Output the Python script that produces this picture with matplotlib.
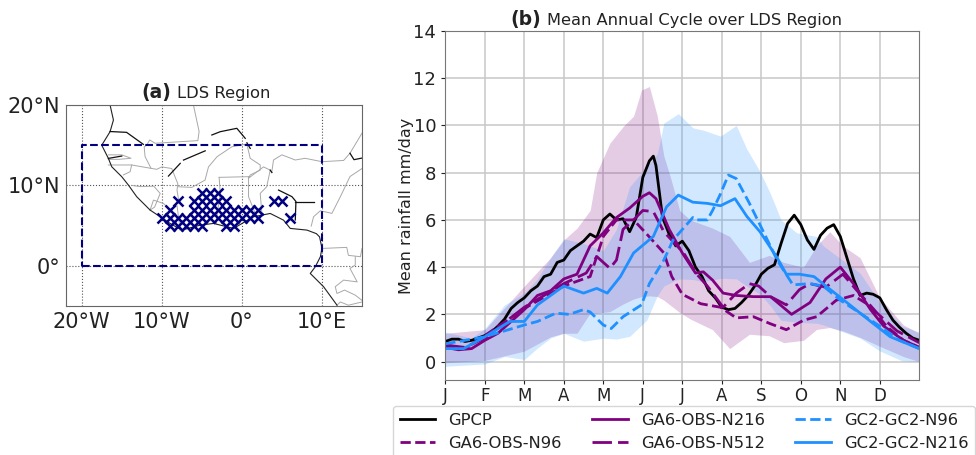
import numpy as np
import matplotlib
matplotlib.use('Agg')
import matplotlib.pyplot as plt

months=['J','F','M','A','M','J','J','A','S','O','N','D']

gpcp_days=[0,5,10,15,20,25,30,35,40,45,50,55,60,65,70,75,80,85,90,95,100,105,110,115,120,125,130,135,140,145,150,155,158,160,165,170,175,180,185,190,195,200,205,210,215,220,225,230,235,240,245,250,255,260,265,270,275,280,285,290,295,300,305,310,315,320,325,330,335,340,345,350,355,360]
gpcp=[0.85,0.95,0.95,0.85,0.9,1.0,1.1,1.25,1.5,1.8,2.25,2.5,2.7,3.0,3.2,3.6,3.7,4.2,4.3,4.7,4.9,5.1,5.4,5.25,6.0,6.25,6.0,6.05,5.5,6.1,7.8,8.5,8.7,8.3,6.1,5.4,4.9,5.1,4.7,4.0,3.6,3.0,2.7,2.3,2.2,2.25,2.5,2.8,3.2,3.7,3.95,4.1,5.0,5.85,6.2,5.8,5.15,4.75,5.35,5.65,5.8,5.3,4.4,3.5,2.8,2.9,2.85,2.7,2.2,1.75,1.45,1.2,1.0,0.9]

n96_days=[0,15,30,60,90,110,120,130,143,153,166,172,180,194,209,221,234,247,259,272,282,297,310,323,335,348,360]
n96=[0.7,0.55,1.1,2.25,3.2,3.6,5.3,6.0,6.0,5.4,4.6,3.6,2.85,2.45,2.3,1.85,1.9,1.6,1.35,1.75,1.9,2.6,2.8,2.35,1.5,0.9,0.6]

n216_days=[0,10,20,30,40,50,60,70,80,90,100,110,120,130,140,150,155,160,170,180,190,196,203,211,221,234,247,263,277,289,300,310,323,333,348,360]
n216=[0.6,0.5,0.55,0.9,1.2,1.7,2.2,2.8,3.0,3.5,3.7,4.9,5.45,6.1,6.5,7.0,7.15,6.9,5.6,4.6,3.75,3.8,3.45,2.9,2.8,2.75,2.75,2.0,2.5,3.5,4.0,3.3,2.2,1.5,0.9,0.6]

n512_days=[0,15,30,60,90,107,115,120,125,130,135,143,150,158,166,181,191,199,211,221,231,238,247,259,269,277,289,302,312,328,343,360]
n512=[0.7,0.6,1.0,2.3,3.3,3.75,4.45,4.2,3.95,4.3,5.6,6.0,6.4,6.35,5.5,4.6,3.7,3.2,2.3,2.9,3.3,3.2,2.75,2.4,3.05,3.3,3.15,3.7,3.05,2.05,1.3,0.8]

gc96_days=[0,30,60,70,84,94,105,110,120,126,135,149,155,166,173,188,191,199,203,209,215,221,231,242,252,264,277,287,300,315,330,345,360]
gc96=[0.75,1.05,1.55,1.7,2.05,2.0,2.2,2.1,1.55,1.4,1.9,2.4,3.3,4.3,5.15,6.1,6.0,6.0,6.4,7.1,7.9,7.75,6.7,5.45,4.3,3.25,3.3,3.2,2.6,2.05,1.5,0.9,0.55]

gc216_days=[0,14,30,49,60,70,90,105,115,123,133,143,158,168,177,188,199,209,220,229,239,252,259,269,280,289,305,323,338,360]
gc216=[0.55,0.55,1.05,1.7,1.7,2.4,3.2,2.9,3.1,2.9,3.6,4.6,5.3,6.55,7.05,6.75,6.7,6.6,6.9,6.15,5.5,4.4,3.7,3.7,3.6,3.2,2.5,1.7,1.05,0.55]

ga6_up_days=[0,30,60,80,90,100,110,115,125,135,143,149,155,161,166,171,178,186,203,216,231,246,257,272,282,292,302,315,330,348,360]
ga6_up=[1.2,1.35,3.2,4.4,5.15,5.65,6.4,8.0,9.25,9.95,10.4,11.5,11.65,10.4,8.7,7.8,6.4,6.0,5.65,5.3,4.2,4.5,4.2,4.0,4.9,5.5,4.9,4.4,2.7,1.55,1.2]
ga6_lo_days=[0,30,38,49,64,80,90,100,110,123,140,152,162,166,181,193,203,216,229,242,257,272,285,297,312,328,343,360]
ga6_lo=[-0.05,0.05,-0.05,0.15,0.55,1.05,1.2,1.2,2.05,2.05,2.6,2.8,2.75,2.6,1.95,1.6,1.35,0.55,1.15,1.2,0.8,0.9,1.5,1.4,1.1,0.7,0.3,0.0]

gc_up_days=[0,20,30,45,60,70,80,90,105,120,130,140,153,161,166,177,188,196,209,221,229,239,247,255,267,282,287,315,330,347,360]
gc_up=[1.25,1.0,1.4,2.4,2.9,3.5,4.4,5.2,5.0,4.7,5.6,7.4,8.25,8.8,10.1,10.5,9.9,9.8,9.55,10.0,9.0,8.05,7.1,6.0,5.45,5.3,4.9,3.75,2.5,1.5,1.25]
gc_lo_days=[0,30,49,62,75,90,102,110,123,134,150,160,166,171,186,203,215,226,242,249,257,272,285,297,312,328,338,360]
gc_lo=[-0.2,-0.1,0.3,0.05,0.9,1.2,0.9,0.8,1.05,0.9,1.35,2.7,3.2,3.5,3.5,3.3,3.75,3.3,2.75,2.2,1.6,1.7,1.6,1.35,1.1,0.55,0.05,0.0]

# map lines, lon then lat
coast_lon=[-16.46,-16.04,-16.46,-17.5,-16.67,-16.25,-15.0,-14.17,-13.13,-11.46,-10.2,-8.96,-7.5,-5.2,-3.54,-1.04,1.46,3.54,5.2,6.04,8.13,9.3,9.7,10.0,9.8,9.17,8.54,10.2,11.88]
coast_lat=[20,18.13,16.68,15.0,13.36,12.32,11.08,10.04,8.59,6.93,6.1,5.27,4.44,5.06,5.27,4.65,6.1,6.51,5.68,4.65,4.44,4.0,3.6,2.2,1.12,-0.12,-0.95,-2.6,-4.9]

borders=[
    ([-6.05,-5.34,-5.5,-10.84,-11.5,-11.9,-12.2,-12.09,-11.34,-10.63,-10,-8.76,-8,-8.1,-7.9],[20,16.7,15.57,15.24,15.65,15.0,14.8,13.58,12.12,12,12.3,12.1,10.2,9.4,8.2]),
    ([-16.67,-13.76,-11.34],[12.54,12.54,12.12]),
    ([-13.76,-13.96,-14.8],[12.54,11.7,11.3]),
    ([-16.67,-15,-13.84,-15.4,-16.67],[13.8,13.8,13.37,13.24,13.24]),
    ([-13.75,-12.7,-11,-10.2,-10.9,-11.46],[10,9.85,9.9,9,7.3,6.93]),
    ([-11.46,-11.04,-9.8,-8.96,-8.1,-7.7],[6.93,8.17,7.76,6.93,7.5,4.4]),
    ([-7.9,-6.25,-4.6,-4.17,-3.1,-1.26,0.62,1.04,2.29,2.29,1.04,0.83],[9.83,9.75,10.66,12.3,13.57,14.8,15.15,13.37,12.54,11.9,11.3,10.9]),
    ([-2.84,1.04],[11,11.09]),
    ([-2.84,-2.7,-3,-3.2],[11,9,7,5.2]),
    ([0.83,0.83,1.67],[11.08,8.6,6.5]),
    ([0.83,2.7,3.54,3.1,2.29,2.5],[10.9,12.3,11.9,9.83,9,6.5]),
    ([3.74,3.95,5,6.66,7.9,10,12.7,13.5,15],[11.7,13.16,13.8,13.16,13.37,12.95,13.1,14,16.5]),
    ([15,13.5,12.3,11.24,9.8,8.95,8.66],[12.1,11.1,8.6,6.52,6.85,6.1,4.94]),
    ([10,13.1,13.3,14.8,15],[2.16,2.29,1.3,1.13,2.16]),
    ([14.16,14.16,13.5,14.4,12.7,11.66,11.87,12.83,14.16,15],[1.13,0.1,-0.33,-2,-1.78,-2.6,-3.44,-3.02,-3.65,-4.3]),
    ([11.87,12.3,13.3,15],[-4.9,-4.5,-4.9,-4.5]),
]

rivers=[
    ([-16.46,-14.4,-12.3],[16.7,16.6,15.1]),
    ([-16.67,-15],[13.36,13.65]),
    ([-9.17,-7.7],[11.16,12.74]),
    ([-7.29,-4.58],[13.15,14.3]),
    ([-3.75,-2.7,-0.63,0.42],[16.27,16.68,17.1,15.85]),
    ([0.63,1.04],[15.3,14.6]),
    ([3.54,3.75],[11.9,11.6]),
    ([4.58,6.25,6.75,6.67],[9.42,8.6,8,5.7]),
    ([6.67,9.04],[7.9,7.9]),
    ([13.5,14.0,15],[14,13.2,13.4]),
]

box_lon=[-20,10,10,-20,-20]
box_lat=[0,0,15,15,0]

stip_rows={
    9:[-5,-4,-3],
    8:[-8,-6,-5,-4,-3,-2,4,5],
    7:[-9,-6,-5,-4,-3,-2,-1,0,1,2],
    6:[-10,-9,-8,-7,-6,-5,-4,-3,-2,-1,0,1,2,6],
    5:[-9,-8,-7,-6,-5,-2,-1],
}

if __name__=='__main__':

    W,H=976.,455.
    textcolor='#222222'
    fig=plt.figure(figsize=(W/100,H/100),dpi=100)

    #####
    ax1=fig.add_axes([65.7/W,(H-306)/H,296.3/W,201/H])
    for blon,blat in borders:
        ax1.plot(blon,blat,color='#a8a8a8',lw=0.7)
    ax1.plot(coast_lon,coast_lat,color='#222222',lw=0.8)
    for rlon,rlat in rivers:
        ax1.plot(rlon,rlat,color='#111111',lw=0.9)
    for stlat,stlons in stip_rows.items():
        ax1.plot(stlons,[stlat]*len(stlons),'x',color='navy',ms=6.5,mew=1.8,ls='none')
    ax1.plot(box_lon,box_lat,color='navy',ls='--',lw=1.5)
    ax1.set_xlim(-22,15)
    ax1.set_ylim(-5,20)
    ax1.set_xticks([-20,-10,0,10])
    ax1.set_xticklabels(['20°W','10°W','0°','10°E'])
    ax1.set_yticks([0,10,20])
    ax1.set_yticklabels(['0°','10°N','20°N'])
    ax1.tick_params(length=0,labelsize=15,pad=4,colors=textcolor)
    ax1.grid(True,color='#555555',ls=':',lw=0.8)
    ax1.set_axisbelow(True)
    for sp in ax1.spines.values():
        sp.set_color('#666666')
    fig.text(171/W,(H-98)/H,'(a)',fontsize=13.5,fontweight='bold',ha='right',color=textcolor)
    fig.text(177/W,(H-98)/H,'LDS Region',fontsize=11.75,ha='left',color=textcolor)

    #####
    ax2=fig.add_axes([445.3/W,(H-380)/H,474/W,349/H])
    ax2.fill_between(ga6_up_days,ga6_up,np.interp(ga6_up_days,ga6_lo_days,ga6_lo),color='purple',alpha=0.2,lw=0)
    ax2.fill_between(gc_up_days,gc_up,np.interp(gc_up_days,gc_lo_days,gc_lo),color='dodgerblue',alpha=0.2,lw=0)
    ax2.plot(gpcp_days,gpcp,color='black',lw=2,label='GPCP')
    ax2.plot(n96_days,n96,color='purple',lw=2,ls='--',label='GA6-OBS-N96')
    ax2.plot(n216_days,n216,color='purple',lw=2,label='GA6-OBS-N216')
    ax2.plot(n512_days,n512,color='purple',lw=2,ls=(0,(7,2.2)),label='GA6-OBS-N512')
    ax2.plot(gc96_days,gc96,color='dodgerblue',lw=2,ls='--',label='GC2-GC2-N96')
    ax2.plot(gc216_days,gc216,color='dodgerblue',lw=2,label='GC2-GC2-N216')
    ax2.set_xlim(0,360)
    ax2.set_ylim(-0.78,14)
    ax2.set_xticks(np.arange(12)*30)
    ax2.set_xticklabels(months)
    ax2.set_yticks(np.arange(0,15,2))
    ax2.tick_params(colors=textcolor)
    ax2.tick_params(axis='x',length=3,pad=2,labelsize=12)
    ax2.tick_params(axis='y',length=3,labelsize=13)
    ax2.grid(True,color='#c8c8c8',lw=1.1)
    ax2.set_axisbelow(True)
    for sp in ax2.spines.values():
        sp.set_color('#777777')
    ax2.set_ylabel('Mean rainfall mm/day',fontsize=11.5,labelpad=-0.5,color=textcolor)
    fig.text(541/W,(H-25)/H,'(b)',fontsize=13.5,fontweight='bold',ha='right',color=textcolor)
    fig.text(547/W,(H-25)/H,'Mean Annual Cycle over LDS Region',fontsize=11.7,ha='left',color=textcolor)

    fig.legend(loc='upper left',bbox_to_anchor=(393/W,(H-406)/H),borderaxespad=0,ncol=3,fontsize=11.75,
        columnspacing=1.85,handlelength=2.2,labelspacing=0.5,handletextpad=0.8,
        borderpad=0.4,frameon=True,labelcolor=textcolor)

    fig.savefig('out.png',dpi=100)
    plt.clf()
